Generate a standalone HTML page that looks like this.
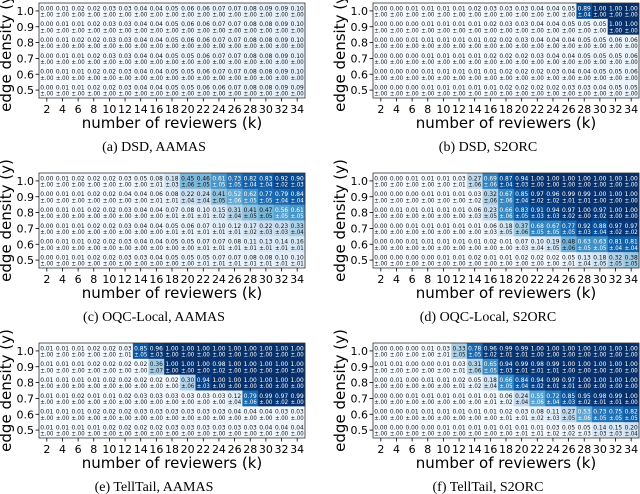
<!DOCTYPE html>
<html><head><meta charset="utf-8">
<style>
html,body{margin:0;padding:0;background:#fff;}
svg{display:block;}
.tk{font-family:"DejaVu Sans","Liberation Sans",sans-serif;font-size:11px;fill:#000;}
.ttl{font-family:"DejaVu Sans","Liberation Sans",sans-serif;font-size:15px;fill:#000;}
.cap{font-family:"Liberation Serif","DejaVu Serif",serif;font-size:14px;fill:#000;}
.cv{font-family:"DejaVu Sans","Liberation Sans",sans-serif;font-size:6.3px;}
</style></head>
<body>
<svg id="fig" width="640" height="494" viewBox="0 0 640 494" xmlns="http://www.w3.org/2000/svg"></svg>
<script>
// ---- data ----
const kLabels = [2,4,6,8,10,12,14,16,18,20,22,24,26,28,30,32,34];
const yLabels = ["1.0","0.9","0.8","0.7","0.6","0.5"];
const panelNames = ["dsd-aamas","dsd-s2orc","oqc-local-aamas","oqc-local-s2orc","telltail-aamas","telltail-s2orc"];
const captions = ["(a) DSD, AAMAS","(b) DSD, S2ORC","(c) OQC-Local, AAMAS","(d) OQC-Local, S2ORC","(e) TellTail, AAMAS","(f) TellTail, S2ORC"];

const valsA = [
"0.00 0.01 0.02 0.02 0.03 0.03 0.04 0.04 0.05 0.06 0.06 0.07 0.07 0.08 0.09 0.09 0.10",
"0.00 0.01 0.01 0.02 0.03 0.03 0.04 0.04 0.05 0.06 0.06 0.07 0.07 0.08 0.08 0.09 0.10",
"0.00 0.01 0.02 0.02 0.03 0.03 0.04 0.04 0.05 0.06 0.06 0.07 0.07 0.08 0.08 0.09 0.10",
"0.00 0.01 0.01 0.02 0.03 0.03 0.04 0.04 0.05 0.05 0.06 0.07 0.07 0.08 0.08 0.09 0.10",
"0.00 0.01 0.01 0.02 0.02 0.03 0.04 0.04 0.05 0.05 0.06 0.07 0.07 0.08 0.08 0.09 0.10",
"0.00 0.01 0.01 0.02 0.02 0.03 0.04 0.04 0.05 0.05 0.06 0.06 0.07 0.08 0.08 0.09 0.09"];
const stdA = ["0 0 0 0 0 0 0 0 0 0 0 0 0 0 0 0 0","0 0 0 0 0 0 0 0 0 0 0 0 0 0 0 0 0","0 0 0 0 0 0 0 0 0 0 0 0 0 0 0 0 0","0 0 0 0 0 0 0 0 0 0 0 0 0 0 0 0 0","0 0 0 0 0 0 0 0 0 0 0 0 0 0 0 0 0","0 0 0 0 0 0 0 0 0 0 0 0 0 0 0 0 0"];

const valsB = [
"0.00 0.00 0.01 0.01 0.01 0.01 0.02 0.03 0.03 0.03 0.04 0.04 0.05 0.89 1.00 1.00 1.00",
"0.00 0.00 0.00 0.01 0.01 0.01 0.01 0.02 0.03 0.03 0.04 0.04 0.05 0.05 0.05 1.00 1.00",
"0.00 0.00 0.01 0.01 0.01 0.01 0.01 0.02 0.02 0.03 0.04 0.04 0.04 0.05 0.05 0.06 0.06",
"0.00 0.00 0.00 0.01 0.01 0.01 0.01 0.02 0.02 0.02 0.03 0.04 0.04 0.05 0.05 0.05 0.06",
"0.00 0.00 0.00 0.01 0.01 0.01 0.01 0.01 0.02 0.02 0.02 0.03 0.04 0.04 0.05 0.05 0.06",
"0.00 0.00 0.00 0.01 0.01 0.01 0.01 0.01 0.02 0.02 0.02 0.02 0.03 0.03 0.04 0.05 0.05"];
const stdB = ["0 0 0 0 0 0 0 0 0 0 0 0 0 4 0 0 0","0 0 0 0 0 0 0 0 0 0 0 0 0 0 0 0 0","0 0 0 0 0 0 0 0 0 0 0 0 0 0 0 0 0","0 0 0 0 0 0 0 0 0 0 0 0 0 0 0 0 0","0 0 0 0 0 0 0 0 0 0 0 0 0 0 0 0 0","0 0 0 0 0 0 0 0 0 0 0 0 0 0 0 0 0"];

const valsC = [
"0.00 0.01 0.02 0.02 0.02 0.03 0.05 0.08 0.18 0.45 0.46 0.61 0.73 0.82 0.83 0.92 0.90",
"0.00 0.01 0.01 0.02 0.02 0.04 0.04 0.06 0.08 0.22 0.24 0.41 0.52 0.62 0.77 0.79 0.84",
"0.00 0.01 0.01 0.02 0.02 0.03 0.04 0.04 0.07 0.08 0.10 0.15 0.31 0.41 0.47 0.56 0.61",
"0.00 0.01 0.01 0.02 0.02 0.03 0.04 0.04 0.05 0.06 0.07 0.10 0.12 0.17 0.22 0.23 0.33",
"0.00 0.01 0.01 0.02 0.02 0.03 0.04 0.04 0.05 0.05 0.07 0.07 0.08 0.11 0.13 0.14 0.16",
"0.00 0.01 0.01 0.02 0.02 0.03 0.03 0.04 0.05 0.05 0.05 0.07 0.07 0.08 0.08 0.10 0.10"];
const stdC = [
"0 0 0 0 0 0 0 1 3 6 5 5 5 4 4 2 3",
"0 0 0 0 0 0 0 1 1 4 4 5 6 5 5 4 4",
"0 0 0 0 0 0 0 0 1 1 1 2 4 5 5 5 5",
"0 0 0 0 0 0 0 0 1 1 1 1 1 2 3 3 4",
"0 0 0 0 0 0 0 0 0 0 1 1 1 1 1 1 1",
"0 0 0 0 0 0 0 0 0 0 1 1 1 1 1 1 1"];

const valsD = [
"0.00 0.00 0.01 0.01 0.01 0.03 0.27 0.69 0.87 0.94 1.00 1.00 1.00 1.00 1.00 1.00 1.00",
"0.00 0.00 0.00 0.01 0.01 0.01 0.03 0.32 0.67 0.85 0.97 0.96 0.99 0.99 1.00 1.00 1.00",
"0.00 0.01 0.01 0.01 0.01 0.01 0.06 0.23 0.66 0.83 0.91 0.94 0.97 1.00 0.97 1.00 1.00",
"0.00 0.00 0.01 0.01 0.01 0.01 0.01 0.06 0.18 0.37 0.68 0.67 0.77 0.92 0.88 0.97 0.97",
"0.00 0.00 0.01 0.01 0.01 0.01 0.01 0.02 0.01 0.07 0.10 0.19 0.48 0.63 0.63 0.81 0.81",
"0.00 0.00 0.00 0.00 0.01 0.01 0.02 0.01 0.01 0.02 0.02 0.02 0.05 0.13 0.18 0.32 0.38"];
const stdD = [
"0 0 0 0 0 1 6 6 4 3 0 0 0 0 0 0 0",
"0 0 0 0 0 0 2 6 6 4 2 2 1 1 0 0 0",
"0 0 0 0 0 0 3 5 6 5 3 3 2 0 2 0 0",
"0 0 0 0 0 0 0 3 5 6 5 5 5 3 4 2 2",
"0 0 0 0 0 0 0 0 0 3 4 5 6 5 5 4 4",
"0 0 0 0 0 0 0 0 0 0 0 0 1 4 5 5 5"];

const valsE = [
"0.01 0.01 0.01 0.02 0.02 0.03 0.85 0.96 1.00 1.00 1.00 1.00 1.00 1.00 1.00 1.00 1.00",
"0.01 0.01 0.01 0.02 0.02 0.02 0.02 0.36 1.00 1.00 1.00 0.98 1.00 1.00 1.00 1.00 1.00",
"0.01 0.01 0.01 0.01 0.02 0.02 0.02 0.02 0.02 0.30 0.94 1.00 1.00 1.00 1.00 1.00 1.00",
"0.01 0.01 0.02 0.01 0.01 0.02 0.03 0.03 0.03 0.03 0.03 0.03 0.12 0.79 0.99 0.97 0.99",
"0.01 0.01 0.01 0.02 0.02 0.02 0.03 0.03 0.03 0.03 0.03 0.03 0.04 0.04 0.04 0.03 0.03",
"0.01 0.01 0.01 0.01 0.02 0.02 0.02 0.02 0.03 0.03 0.03 0.03 0.03 0.03 0.04 0.04 0.04"];
const stdE = [
"0 0 0 0 0 1 5 3 0 0 0 0 0 0 0 0 0",
"0 0 0 0 0 0 0 7 0 0 0 2 0 0 0 0 0",
"0 0 0 0 0 0 0 0 0 6 3 0 0 0 0 0 0",
"0 0 0 0 0 0 0 0 0 0 0 0 4 6 0 2 0",
"0 0 0 0 0 0 0 0 0 0 0 0 0 0 0 0 0",
"0 0 0 0 0 0 0 0 0 0 0 0 0 0 0 0 0"];

const valsF = [
"0.00 0.00 0.00 0.01 0.03 0.33 0.78 0.96 0.99 0.99 1.00 1.00 1.00 1.00 1.00 1.00 1.00",
"0.01 0.01 0.00 0.00 0.01 0.03 0.31 0.65 0.94 0.99 0.98 0.99 1.00 1.00 1.00 1.00 1.00",
"0.00 0.01 0.00 0.01 0.01 0.02 0.05 0.18 0.66 0.84 0.94 0.99 0.97 1.00 1.00 1.00 1.00",
"0.00 0.00 0.01 0.01 0.01 0.01 0.01 0.01 0.06 0.24 0.55 0.72 0.85 0.95 0.98 0.99 1.00",
"0.00 0.00 0.01 0.01 0.01 0.01 0.01 0.01 0.02 0.03 0.08 0.11 0.27 0.53 0.73 0.75 0.82",
"0.00 0.00 0.00 0.00 0.01 0.01 0.01 0.01 0.01 0.01 0.01 0.03 0.05 0.05 0.14 0.15 0.20"];
const stdF = [
"0 0 0 0 1 5 5 2 1 1 0 0 0 0 0 0 0",
"0 0 0 0 0 1 6 5 3 1 1 1 0 0 0 0 0",
"0 0 0 0 0 1 2 4 5 4 2 1 1 0 0 0 0",
"0 0 0 0 0 0 0 1 2 4 6 4 3 2 1 1 0",
"0 0 0 0 0 0 0 0 1 1 2 3 5 6 5 5 5",
"0 0 0 0 0 0 0 0 0 1 1 2 2 3 3 3 4"];

const allVals = [valsA,valsB,valsC,valsD,valsE,valsF];
const allStd = [stdA,stdB,stdC,stdD,stdE,stdF];

// ---- layout ----
const NS = "http://www.w3.org/2000/svg";
const svg = document.getElementById('fig');
const colX = [39, 373];
const rowY = [3, 173, 343];
const W = 266, H = 95;
const stops = [[247,251,255],[222,235,247],[198,219,239],[158,202,225],[107,174,214],[66,146,198],[33,113,181],[8,81,156],[8,48,107]];
function blues(v){
  v = Math.max(0, Math.min(1, v));
  const p = v * (stops.length - 1), i = Math.min(Math.floor(p), stops.length - 2), f = p - i;
  const c = stops[i].map((s, j) => Math.round(s + (stops[i+1][j] - s) * f));
  return 'rgb(' + c.join(',') + ')';
}
function mk(tag, attrs, parent){
  const e = document.createElementNS(NS, tag);
  for (const k in attrs) e.setAttribute(k, attrs[k]);
  (parent || svg).appendChild(e);
  return e;
}
function fmtStd(n){ return '±.' + (n < 10 ? '0' + n : '' + n); }

for (let p = 0; p < 6; p++) {
  const x0 = colX[p % 2], y0 = rowY[Math.floor(p / 2)];
  const nCols = kLabels.length, nRows = yLabels.length;
  const cw = W / nCols, ch = H / nRows;
  const xs = i => x0 + i * cw;
  const ys = j => y0 + j * ch;
  const g = mk('g', {});
  
  
  const vals = allVals[p].map(r => r.split(' ').map(Number));
  const stds = allStd[p].map(r => r.split(' ').map(Number));
  for (let j = 0; j < nRows; j++) {
    for (let i = 0; i < nCols; i++) {
      const v = vals[j][i];
      const r = mk('rect', {x: xs(i), y: ys(j), width: cw + 0.3, height: ch + 0.3, fill: blues(v)}, g);
      
      
      const col = v > 0.5 ? '#fff' : '#111';
      const t1 = mk('text', {x: xs(i) + cw / 2, y: ys(j) + ch / 2 - 0.6, 'text-anchor': 'middle', class: 'cv', fill: col, textLength: cw - 2.5, lengthAdjust: 'spacingAndGlyphs'}, g);
      t1.textContent = v.toFixed(2);
      
      
      const t2 = mk('text', {x: xs(i) + cw / 2, y: ys(j) + ch / 2 + 5.6, 'text-anchor': 'middle', class: 'cv', fill: col, textLength: cw - 2.5, lengthAdjust: 'spacingAndGlyphs'}, g);
      t2.textContent = fmtStd(stds[j][i]);
      
      
    }
  }
  const fr = mk('rect', {x: x0, y: y0, width: W, height: H, fill: 'none', stroke: '#333', 'stroke-width': 0.8}, g);
  
  
  for (let i = 0; i < nCols; i++) {
    const cx = xs(i) + cw / 2;
    mk('line', {x1: cx, x2: cx, y1: y0 + H, y2: y0 + H + 3.5, stroke: '#000', 'stroke-width': 0.8}, g);
    const t = mk('text', {x: cx, y: y0 + H + 15, 'text-anchor': 'middle', class: 'tk'}, g);
    t.textContent = kLabels[i];
    
    
  }
  for (let j = 0; j < nRows; j++) {
    const cy = ys(j) + ch / 2;
    mk('line', {x1: x0 - 3.5, x2: x0, y1: cy, y2: cy, stroke: '#000', 'stroke-width': 0.8}, g);
    const t = mk('text', {x: x0 - 5, y: cy + 4, 'text-anchor': 'end', class: 'tk'}, g);
    t.textContent = yLabels[j];
    
    
  }
  const xt = mk('text', {x: x0 + W / 2, y: y0 + H + 30, 'text-anchor': 'middle', class: 'ttl'}, g);
  xt.textContent = 'number of reviewers (k)';
  
  
  const yt = mk('text', {x: 0, y: 0, 'text-anchor': 'middle', class: 'ttl', transform: 'translate(' + (x0 - 28) + ',' + (y0 + H / 2) + ') rotate(-90)'}, g);
  yt.textContent = 'edge density (y)';
  
  
  const cp = mk('text', {x: x0 + W / 2 - 18, y: y0 + H + 53, 'text-anchor': 'middle', class: 'cap'}, g);
  cp.textContent = captions[p];
  
  
}
</script>
</body></html>
